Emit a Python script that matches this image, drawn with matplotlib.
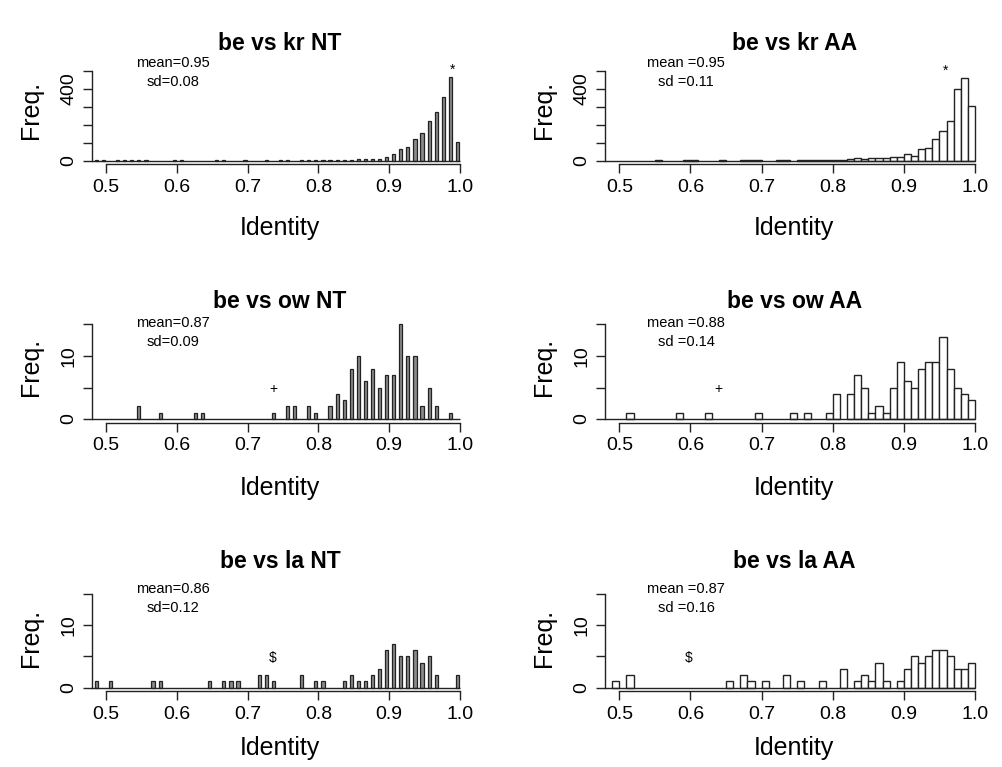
import numpy as np
import matplotlib
matplotlib.use("Agg")
import matplotlib.pyplot as plt

plt.rcParams['font.family'] = ['Liberation Sans', 'DejaVu Sans']

# ---- data (bin left edges, bin width 0.01) ----
kr_nt_bins = [0.48, 0.49, 0.51, 0.52, 0.53, 0.54, 0.55, 0.59, 0.60, 0.65, 0.66, 0.69, 0.72,
              0.74, 0.75, 0.77, 0.78, 0.79, 0.80, 0.81, 0.82, 0.83, 0.84, 0.85, 0.86, 0.87,
              0.88, 0.89, 0.90, 0.91, 0.92, 0.93, 0.94, 0.95, 0.96, 0.97, 0.98, 0.99]
kr_nt_counts = [4, 4, 4, 4, 4, 4, 4, 4, 4, 4, 4, 4, 4,
                4, 4, 5, 5, 5, 5, 6, 6, 6, 6, 12, 12, 12,
                12, 20, 39, 63, 78, 119, 152, 221, 270, 357, 469, 102]

kr_aa_bins = [0.55, 0.59, 0.60, 0.64, 0.67, 0.68, 0.69, 0.72, 0.73, 0.75, 0.76, 0.77, 0.78,
              0.79, 0.80, 0.81, 0.82, 0.83, 0.84, 0.85, 0.86, 0.87, 0.88, 0.89, 0.90, 0.91,
              0.92, 0.93, 0.94, 0.95, 0.96, 0.97, 0.98, 0.99]
kr_aa_counts = [3, 3, 3, 3, 3, 3, 3, 3, 3, 3, 3, 3, 3,
                3, 3, 5, 7, 15, 7, 13, 13, 13, 22, 20, 37, 28,
                63, 73, 119, 166, 221, 398, 460, 307]

ow_nt_bins = [0.54, 0.57, 0.62, 0.63, 0.73, 0.75, 0.76, 0.78, 0.79, 0.81, 0.82, 0.83, 0.84,
              0.85, 0.86, 0.87, 0.88, 0.89, 0.90, 0.91, 0.92, 0.93, 0.94, 0.95, 0.96, 0.98]
ow_nt_counts = [2, 1, 1, 1, 1, 2, 2, 2, 1, 2, 4, 3, 8,
                10, 6, 8, 5, 7, 7, 15, 10, 10, 2, 5, 2, 1]

ow_aa_bins = [0.51, 0.58, 0.62, 0.69, 0.74, 0.76, 0.79, 0.80, 0.82, 0.83, 0.84, 0.85, 0.86,
              0.87, 0.88, 0.89, 0.90, 0.91, 0.92, 0.93, 0.94, 0.95, 0.96, 0.97, 0.98, 0.99]
ow_aa_counts = [1, 1, 1, 1, 1, 1, 1, 4, 4, 7, 5, 1, 2,
                1, 5, 9, 6, 5, 8, 9, 9, 13, 8, 5, 4, 3]

la_nt_bins = [0.48, 0.50, 0.56, 0.57, 0.64, 0.66, 0.67, 0.68, 0.71, 0.72, 0.73, 0.77, 0.79,
              0.80, 0.83, 0.84, 0.85, 0.86, 0.87, 0.88, 0.89, 0.90, 0.91, 0.92, 0.93, 0.94,
              0.95, 0.96, 0.99]
la_nt_counts = [1, 1, 1, 1, 1, 1, 1, 1, 2, 2, 1, 2, 1,
                1, 1, 2, 1, 1, 2, 3, 6, 7, 5, 5, 6, 4,
                5, 2, 2]

la_aa_bins = [0.49, 0.51, 0.65, 0.67, 0.68, 0.70, 0.73, 0.75, 0.78, 0.81, 0.83, 0.84, 0.85,
              0.86, 0.87, 0.89, 0.90, 0.91, 0.92, 0.93, 0.94, 0.95, 0.96, 0.97, 0.98, 0.99]
la_aa_counts = [1, 2, 1, 2, 1, 1, 2, 1, 1, 3, 1, 2, 1,
                4, 1, 1, 3, 5, 4, 5, 6, 6, 5, 3, 3, 4]

titles = ["be vs kr NT", "be vs kr AA", "be vs ow NT", "be vs ow AA", "be vs la NT", "be vs la AA"]
means = ["0.95", "0.95", "0.87", "0.88", "0.86", "0.87"]
sds = ["0.08", "0.11", "0.09", "0.14", "0.12", "0.16"]
marks = ["*", "*", "+", "+", "$", "$"]
mark_x = [0.989, 0.958, 0.736, 0.639, 0.736, 0.597]
mark_y = [506, 503, 4.7, 4.7, 4.8, 4.8]

W, H = 1003, 767
fig = plt.figure(figsize=(W / 100, H / 100), dpi=100)

# pixel layout: column (left, width), row (top, bottom) of plot regions
cols = [(91.8, 382.3), (605.1, 384.2)]
rows = [(67.6, 164.3), (320.7, 422.8), (590.0, 691.3)]
ylims = [(-20, 520), (-0.6, 15.6), (-0.6, 15.6)]
yticks = [[0, 100, 200, 300, 400, 500], [0, 5, 10, 15], [0, 5, 10, 15]]
ylabs = [["0", "", "", "", "400", ""], ["0", "", "10", ""], ["0", "", "10", ""]]
title_y = [43, 302, 562]
xlab_y = [228, 488, 748]
freq_y = [110, 367, 638]
mean_y = [63, 323, 589]

data = [(kr_nt_bins, kr_nt_counts), (kr_aa_bins, kr_aa_counts),
        (ow_nt_bins, ow_nt_counts), (ow_aa_bins, ow_aa_counts),
        (la_nt_bins, la_nt_counts), (la_aa_bins, la_aa_counts)]

line_c = '#222222'

def fx(x):
    return x / W

def fy(y):
    return 1 - y / H

for i in range(6):
    r, c = divmod(i, 2)
    left, width = cols[c]
    top, bottom = rows[r]
    ax = fig.add_axes([fx(left), fy(bottom), width / W, (bottom - top) / H])
    bins, counts = data[i]
    bins = np.array(bins)
    if c == 0:
        ax.bar(bins + 0.0065, counts, width=0.0045, align='center',
               facecolor='#8a8a8a', edgecolor=line_c, linewidth=0.9)
    else:
        ax.bar(bins, counts, width=0.01, align='edge',
               facecolor='white', edgecolor=line_c, linewidth=1.0)
    ax.hlines(0, 0.48, 1.0, color=line_c, linewidth=1.0)
    ax.set_xlim(0.48, 1.02)
    ax.set_ylim(*ylims[r])
    for s in ['top', 'right']:
        ax.spines[s].set_visible(False)
    ax.spines['left'].set_bounds(yticks[r][0], yticks[r][-1])
    ax.spines['bottom'].set_bounds(0.5, 1.0)
    for s in ['left', 'bottom']:
        ax.spines[s].set_color(line_c)
        ax.spines[s].set_linewidth(1.0)
    ax.set_xticks([0.5, 0.6, 0.7, 0.8, 0.9, 1.0])
    ax.set_xticklabels(["0.5", "0.6", "0.7", "0.8", "0.9", "1.0"], fontsize=14)
    ax.set_yticks(yticks[r])
    ax.set_yticklabels(ylabs[r], fontsize=14, rotation=90, va='center')
    ax.tick_params(direction='out', length=6.5, width=1.0, color=line_c, pad=4)
    ax.patch.set_visible(False)
    ax.text(mark_x[i], mark_y[i], marks[i], ha='center', va='center', fontsize=10)

    cx = left + width / 2 - 3
    fig.text(fx(cx), fy(title_y[r]), titles[i], ha='center', va='center',
             fontsize=16.5, fontweight='bold')
    fig.text(fx(cx), fy(xlab_y[r]), "Identity", ha='center', va='center', fontsize=18)
    fig.text(fx(left - 61), fy(freq_y[r]), "Freq.", ha='center', va='center',
             fontsize=18, rotation=90)
    eq = "=" if c == 0 else " ="
    mx = left + 81
    fig.text(fx(mx), fy(mean_y[r]), "mean" + eq + means[i], ha='center', va='center',
             fontsize=10.5)
    fig.text(fx(mx), fy(mean_y[r] + 18.5), "sd" + eq + sds[i], ha='center', va='center',
             fontsize=10.5)

fig.savefig("out.png", dpi=100)
